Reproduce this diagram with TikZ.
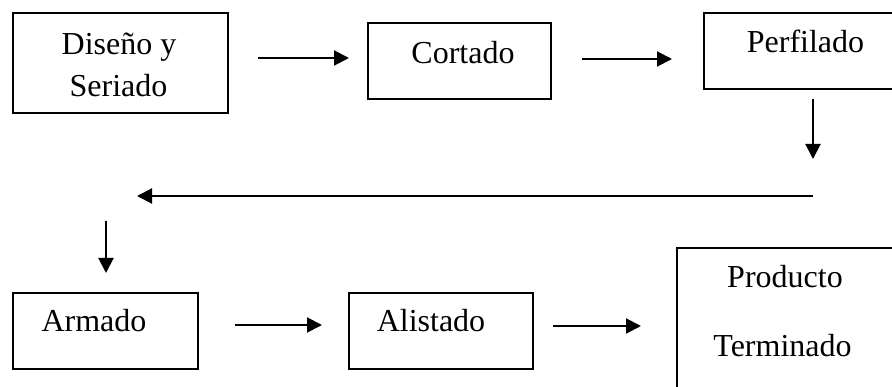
\documentclass[tikz,border=0pt]{standalone}
\usepackage{fontspec}
\setmainfont{Liberation Serif}
\usetikzlibrary{arrows.meta}
\tikzset{
  box/.style={draw=black, line width=1.3pt, inner sep=0pt, rectangle},
  txt/.style={inner sep=0pt, anchor=base, font=\fontsize{32}{42}\selectfont},
  flow/.style={line width=2pt, -{Triangle[length=15pt, width=15pt]}}
}
\begin{document}
\begin{tikzpicture}[x=1pt, y=-1pt]
\clip (0,0) rectangle (892,387);
\fill[white] (0,0) rectangle (892,387);
% boxes
\node[box, minimum width=215pt, minimum height=100pt] (b1) at (120.5,63) {};
\node[box, minimum width=183pt, minimum height=76pt] (b2) at (459.5,61) {};
\node[box, minimum width=203pt, minimum height=76pt] (b3) at (805.5,51) {};
\node[box, minimum width=185pt, minimum height=76pt] (b4) at (105.5,331) {};
\node[box, minimum width=184pt, minimum height=76pt] (b5) at (441,331) {};
\node[box, minimum width=230pt, minimum height=150pt] (b6) at (792,323) {};
% texts
\node[txt] (t1a) at (119,55) {Diseño y};
\node[txt] (t1b) at (118.5,97) {Seriado};
\node[txt] (t2) at (463,64) {Cortado};
\node[txt] (t3) at (805.5,53) {Perfilado};
\node[txt] (t4) at (94,332) {Armado};
\node[txt] (t5) at (431,332) {Alistado};
\node[txt] (t6a) at (785,288) {Producto};
\node[txt] (t6b) at (782.5,357) {Terminado};
% arrow end points
\coordinate (a1s) at (258,58);  \coordinate (a1e) at (349,58);
\coordinate (a2s) at (582,59);  \coordinate (a2e) at (672,59);
\coordinate (a3s) at (813,99);  \coordinate (a3e) at (813,159);
\coordinate (a4s) at (813,196); \coordinate (a4e) at (137,196);
\coordinate (a5s) at (106,221); \coordinate (a5e) at (106,273);
\coordinate (a6s) at (235,325); \coordinate (a6e) at (322,325);
\coordinate (a7s) at (553,326); \coordinate (a7e) at (641,326);
% arrows
\draw[flow] (a1s) -- (a1e);
\draw[flow] (a2s) -- (a2e);
\draw[flow] (a3s) -- (a3e);
\draw[flow] (a4s) -- (a4e);
\draw[flow] (a5s) -- (a5e);
\draw[flow] (a6s) -- (a6e);
\draw[flow] (a7s) -- (a7e);
\end{tikzpicture}
\end{document}
